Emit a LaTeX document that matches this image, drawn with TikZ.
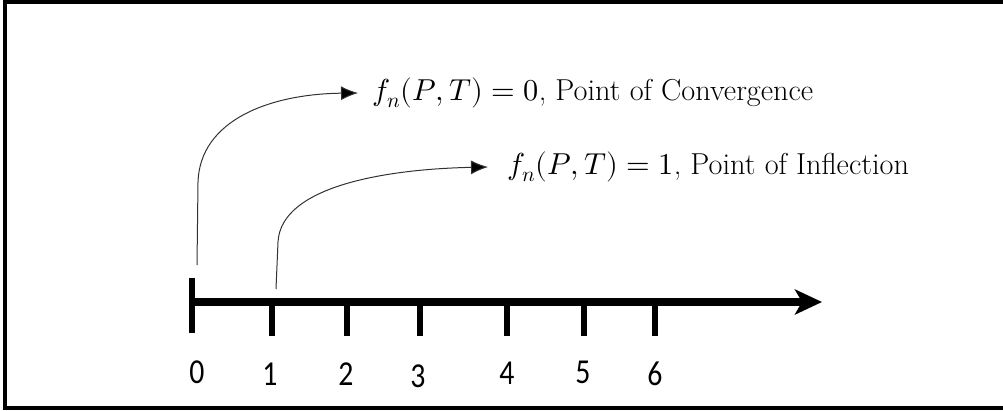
\documentclass[tikz,border=0pt]{standalone}
\usepackage{fontspec}
\usepackage{unicode-math}
\setmathfont{Latin Modern Math}
\newfontfamily\numfont[FakeStretch=0.85]{Carlito}
\usetikzlibrary{positioning,arrows.meta}
\definecolor{linkgray}{RGB}{50,50,50}

\begin{document}
\begin{tikzpicture}[
    x=1pt, y=-1pt,
    frame/.style={draw=black, line width=3.5pt},
    axisline/.style={
        line width=7.5pt,
        -{Stealth[length=27pt, width=25pt, inset=7pt]}
    },
    tick/.style={line width=6pt},
    ticklabel/.style={
        font=\numfont\fontsize{35}{38}\selectfont,
        inner sep=0pt
    },
    lbl/.style={
        font=\fontsize{30.3}{36}\selectfont,
        inner sep=0pt,
        anchor=west
    },
    link/.style={
        draw=linkgray,
        line width=1pt,
        -{Latex[length=17pt, width=14pt, fill=black]}
    }
]

% frame, open on the right
\useasboundingbox (0,0) rectangle (1003,410);
\draw[frame] (1010,2) -- (5,2) -- (5,408) -- (1010,408);

% number line
\coordinate (t0) at (192,302);
\coordinate (axisend) at (822,302);
\draw[axisline] (t0) -- (axisend);
\draw[tick] (192,278) -- (192,333);

\foreach \k/\xpos in {1/272, 2/347, 3/420, 4/507, 5/584, 6/655} {
    \draw[tick] (\xpos,299) -- (\xpos,336);
}

\node[ticklabel] (n0) at (197,372) {0};
\node[ticklabel] (n1) at (270,374) {1};
\node[ticklabel] (n2) at (346,374) {2};
\node[ticklabel] (n3) at (418,376) {3};
\node[ticklabel] (n4) at (507,373) {4};
\node[ticklabel] (n5) at (583,372) {5};
\node[ticklabel] (n6) at (655,374) {6};

% the two points
\node[lbl] (conv) at (372,93) {$f_n(P,T)=0$, Point of Convergence};
\node[lbl] (infl) at (507,167) {$f_n(P,T)=1$, Point of Inflection};

\coordinate (s0) at (197,265);
\coordinate (s1) at (276,289);
\draw[link] (s0) -- (198,182)
    .. controls (200,120) and (270,94) .. ([xshift=-14pt]conv.west);
\draw[link] (s1) -- (278,242)
    .. controls (281,185) and (390,169) .. ([xshift=-19pt]infl.west);

\end{tikzpicture}
\end{document}
